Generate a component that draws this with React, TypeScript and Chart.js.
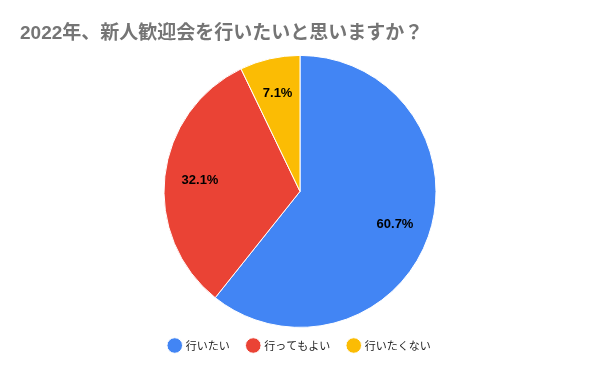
import React, { useEffect, useRef } from "react";
import { Chart, registerables } from "chart.js";

Chart.register(...registerables);

const categories = ["行いたい", "行ってもよい", "行いたくない"];
const counts = [17, 9, 2];
const colors = ["#4285f4", "#ea4335", "#fbbc04"];
const titleText = "2022年、新人歓迎会を行いたいと思いますか？";

const labelPlugin = {
  id: "sliceLabels",
  afterDatasetsDraw(chart: any) {
    const ctx = chart.ctx;
    const meta = chart.getDatasetMeta(0);
    const data = chart.data.datasets[0].data as number[];
    const total = data.reduce((a, b) => a + b, 0);
    ctx.save();
    ctx.font = "bold 13px 'Liberation Sans', Arial, sans-serif";
    ctx.fillStyle = "#000";
    ctx.textAlign = "center";
    ctx.textBaseline = "middle";
    meta.data.forEach((arc: any, i: number) => {
      const { x, y, startAngle, endAngle, outerRadius } = arc.getProps(
        ["x", "y", "startAngle", "endAngle", "outerRadius"],
        true
      );
      const mid = (startAngle + endAngle) / 2;
      const r = outerRadius * 0.74;
      const pct = ((data[i] / total) * 100).toFixed(1) + "%";
      ctx.fillText(pct, x + Math.cos(mid) * r, y + Math.sin(mid) * r);
    });
    ctx.restore();
  },
};

export default function App() {
  const ref = useRef<HTMLCanvasElement>(null);
  useEffect(() => {
    document.body.style.margin = "0";
    const chart = new Chart(ref.current!, {
      type: "pie",
      data: {
        labels: categories,
        datasets: [
          {
            data: counts,
            backgroundColor: colors,
            borderColor: "#ffffff",
            borderWidth: 1,
            radius: 136,
          } as any,
        ],
      },
      options: {
        animation: false,
        responsive: false,
        layout: { padding: { left: 20, right: 20, top: 0, bottom: 10 } },
        plugins: {
          title: {
            display: true,
            text: titleText,
            align: "start",
            color: "#757575",
            font: { family: "'Liberation Sans', 'Noto Sans CJK JP', sans-serif", size: 19, weight: "bold" },
            padding: { top: 22, bottom: 16 },
          },
          legend: {
            position: "bottom",
            labels: {
              usePointStyle: true,
              pointStyle: "circle",
              boxWidth: 11,
              boxHeight: 11,
              color: "#222222",
              font: { family: "'Noto Sans CJK JP', Roboto, sans-serif", size: 11 },
              padding: 18,
            },
          },
          tooltip: { enabled: false },
        },
      },
      plugins: [labelPlugin],
    });
    return () => chart.destroy();
  }, []);
  return (
    <div style={{ width: 600, height: 371 }}>
      <canvas ref={ref} width={600} height={371} style={{ display: "block" }} />
    </div>
  );
}
